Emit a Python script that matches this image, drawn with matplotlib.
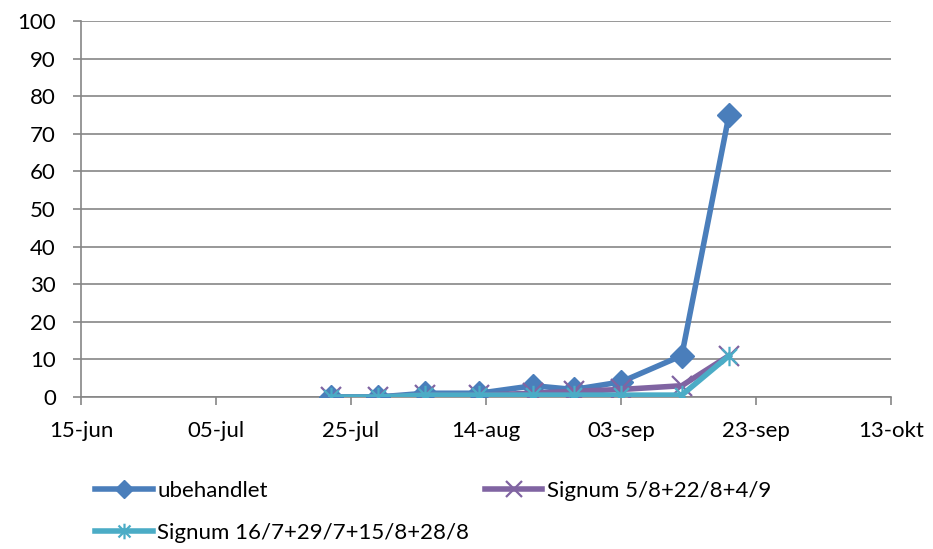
import numpy as np
import matplotlib.pyplot as plt
from matplotlib.path import Path
from datetime import datetime

# observation dates and values
dates = ['2011-07-22', '2011-07-29', '2011-08-05', '2011-08-13', '2011-08-21',
         '2011-08-27', '2011-09-03', '2011-09-12', '2011-09-19']
ubehandlet = [0, 0, 1, 1, 3, 2, 4, 11, 75]
signum_a = [0, 0, 0.5, 0.5, 1, 1.5, 2, 3, 11]
signum_b = [0, 0, 0.5, 0.5, 0.5, 0.5, 0.5, 0.5, 11]
labels = ['ubehandlet', 'Signum 5/8+22/8+4/9', 'Signum 16/7+29/7+15/8+28/8']
tick_labels = ['15-jun', '05-jul', '25-jul', '14-aug', '03-sep', '23-sep', '13-okt']
tick_dates = ['2011-06-15', '2011-07-05', '2011-07-25', '2011-08-14',
              '2011-09-03', '2011-09-23', '2011-10-13']

x = [datetime.strptime(d, '%Y-%m-%d') for d in dates]
ticks = [datetime.strptime(d, '%Y-%m-%d') for d in tick_dates]

plt.rcParams['font.family'] = ['Lato', 'DejaVu Sans']
plt.rcParams['font.size'] = 16

# excel style star marker: x with a vertical bar
star = Path([(-1, -1), (1, 1), (-1, 1), (1, -1), (0, -1.3), (0, 1.3)],
            [Path.MOVETO, Path.LINETO, Path.MOVETO, Path.LINETO, Path.MOVETO, Path.LINETO])

fig = plt.figure(figsize=(9.33, 5.49), dpi=100)
ax = fig.add_axes([81/933, 1-397/549, (891-81)/933, (397-21)/549])

h0, = ax.plot(x, ubehandlet, color='#4A7EBB', lw=4, marker='D', ms=12, label=labels[0], zorder=3)
h1, = ax.plot(x, signum_a, color='#8064A2', lw=4, marker='x', ms=14, mew=1.6, label=labels[1], zorder=4)
h2, = ax.plot(x, signum_b, color='#4BACC6', lw=4, marker=star, ms=14, mew=1.6, label=labels[2], zorder=5)

ax.set_ylim(0, 100)
ax.set_yticks(np.arange(0, 101, 10))
ax.set_xlim(ticks[0], ticks[-1])
ax.set_xticks(ticks)
ax.set_xticklabels(tick_labels)

ax.grid(axis='y', color='#868686', lw=1.2)
ax.set_axisbelow(True)
for s in ['top', 'right']:
    ax.spines[s].set_visible(False)
for s in ['left', 'bottom']:
    ax.spines[s].set_color('#868686')
    ax.spines[s].set_linewidth(1.2)
ax.tick_params(axis='both', color='#868686', width=1.2, length=6)
ax.tick_params(axis='y', pad=12)
ax.tick_params(axis='x', pad=11)

# legend filled column-wise, so reorder for row-wise look
fig.legend([h0, h2, h1], [labels[0], labels[2], labels[1]],
           loc='upper left', bbox_to_anchor=(86/933, 1-472/549), ncol=2, frameon=False,
           handlelength=2.6, handletextpad=0.2, columnspacing=0.7, labelspacing=1.0,
           borderaxespad=0, markerscale=0.8)

fig.savefig('out.png')
